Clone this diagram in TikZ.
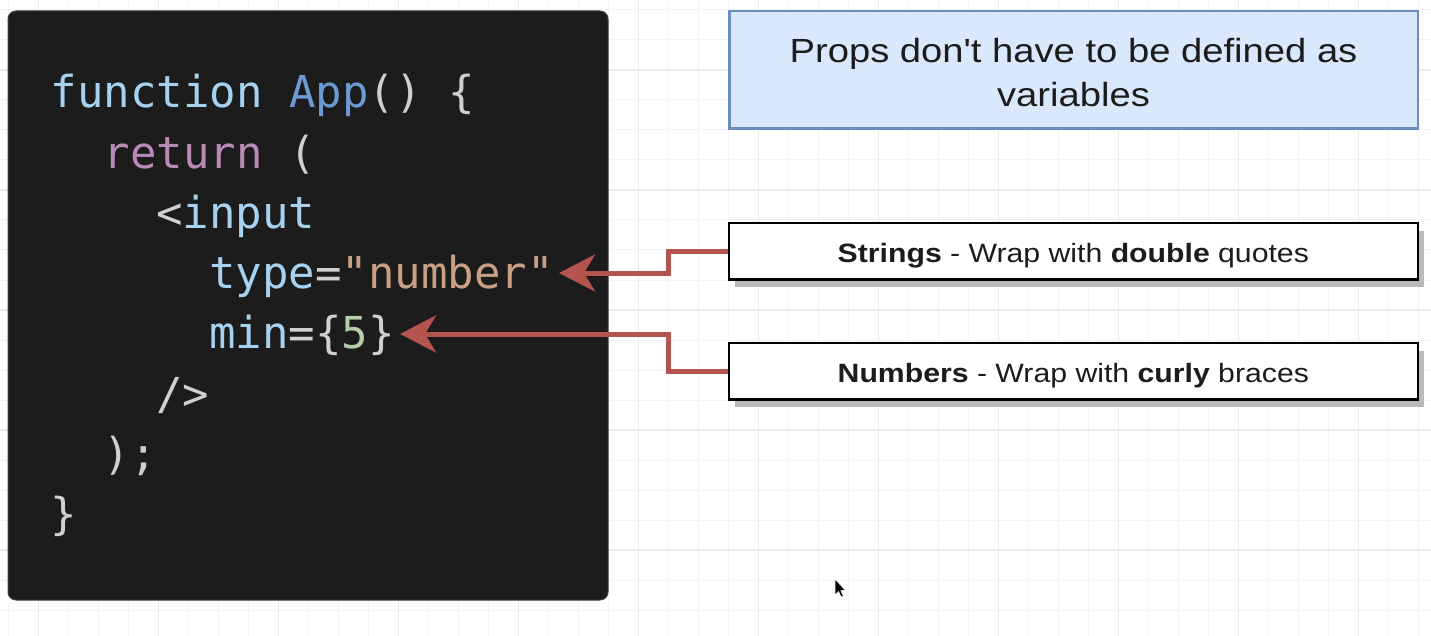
\documentclass[tikz,border=0pt]{standalone}
\usepackage{fontspec}
\usetikzlibrary{arrows.meta,shadows}
\newfontfamily\codefont[Ligatures=TeXOff]{DejaVu Sans Mono}
\newfontfamily\boxfont[Ligatures=TeXOff,FakeStretch=1.14]{Liberation Sans}
\definecolor{cBlue}{HTML}{A6D2EF}
\definecolor{cApp}{HTML}{6B9BD2}
\definecolor{cPunc}{HTML}{D0D0D0}
\definecolor{cRet}{HTML}{B88AB5}
\definecolor{cStr}{HTML}{C9A085}
\definecolor{cNum}{HTML}{B5CEA8}
\definecolor{codeBg}{HTML}{1C1C1C}
\definecolor{arrowRed}{HTML}{B5534F}
\definecolor{noteFill}{HTML}{DAE8FC}
\definecolor{noteDraw}{HTML}{6C8EBF}
\definecolor{gridMinor}{HTML}{F4F4F4}
\definecolor{gridMajor}{HTML}{ECECEC}
\definecolor{txtDark}{HTML}{1C1C1C}
\tikzset{
  gridminor/.style={draw=gridMinor,line width=1pt},
  gridmajor/.style={draw=gridMajor,line width=1.3pt},
  codebox/.style={draw=black!75,line width=1pt,fill=codeBg,rounded corners=8pt,
    minimum width=600pt,minimum height=589pt,inner sep=0pt},
  codeline/.style={anchor=base west,inner sep=0pt,font=\codefont\fontsize{44}{60}\selectfont,text=cPunc},
  notebox/.style={draw=noteDraw,fill=noteFill,line width=2.5pt,minimum width=688.5pt,
    minimum height=117.5pt,inner sep=0pt},
  notetext/.style={align=center,inner sep=0pt,text=txtDark,
    font=\boxfont\fontsize{33.5}{44}\selectfont},
  infobox/.style={draw=black,fill=white,line width=2.5pt,minimum width=689pt,
    minimum height=56.5pt,inner sep=0pt,text=txtDark,
    font=\boxfont\fontsize{26.5}{32}\selectfont,text height=22.2pt,text depth=0pt,
    drop shadow={shadow xshift=6pt,shadow yshift=-8pt,fill=black!27,opacity=1}},
  conn/.style={draw=arrowRed,line width=5pt,
    -{Stealth[length=36pt,width=37pt,inset=11pt,fill=arrowRed]}},
}
\begin{document}
\begin{tikzpicture}[x=1pt,y=-1pt]
\useasboundingbox (0,0) rectangle (1431,636);
\fill[white] (0,0) rectangle (1431,636);
% grid
\foreach \gx in {8.3,38.3,...,1431} \draw[gridminor] (\gx,0) -- (\gx,636);
\foreach \gy in {10,40,...,636} \draw[gridminor] (0,\gy) -- (1431,\gy);
\foreach \gx in {38.3,158.3,...,1431} \draw[gridmajor] (\gx,0) -- (\gx,636);
\foreach \gy in {70,190,...,636} \draw[gridmajor] (0,\gy) -- (1431,\gy);
% code box
\node[codebox] (code) at (308,305.5) {};
\node[codeline] (c1) at (50.6,108) {\textcolor{cBlue}{function} \textcolor{cApp}{App}() \{};
\node[codeline] (c2) at (103.4,168.2) {\textcolor{cRet}{return} (};
\node[codeline] (c3) at (156.2,228.4) {<\textcolor{cBlue}{input}};
\node[codeline] (c4) at (209,288.6) {\textcolor{cBlue}{type}=\textcolor{cStr}{"number"}};
\node[codeline] (c5) at (209,348.8) {\textcolor{cBlue}{min}=\{\textcolor{cNum}{5}\}};
\node[codeline] (c6) at (156.2,409) {/>};
\node[codeline] (c7) at (103.4,469.2) {);};
\node[codeline] (c8) at (50.6,529.4) {\}};
% note
\node[notebox] (props) at (1073.5,70) {};
\node[notetext] (propstxt) at ([yshift=-3pt]props.center) {Props don't have to be defined as\\variables};
% info boxes
\node[infobox] (strings) at (1073.3,251.2) {\textbf{Strings} - Wrap with \textbf{double} quotes};
\node[infobox] (numbers) at (1073.3,371.2) {\textbf{Numbers} - Wrap with \textbf{curly} braces};
% connectors
\coordinate (tipA) at (559,273);
\coordinate (tipB) at (400,334);
\draw[conn] (strings.west) -- (668,251.2) |- (tipA);
\draw[conn] (numbers.west) -- (668,371.2) |- (tipB);
% mouse cursor
\filldraw[fill=black,draw=white,line width=0.6pt] (835,579) -- (835,595) -- (838.5,591.5) -- (841.2,597) -- (843.4,596) -- (840.8,590.6) -- (845.5,590.4) -- cycle;
\end{tikzpicture}
\end{document}
